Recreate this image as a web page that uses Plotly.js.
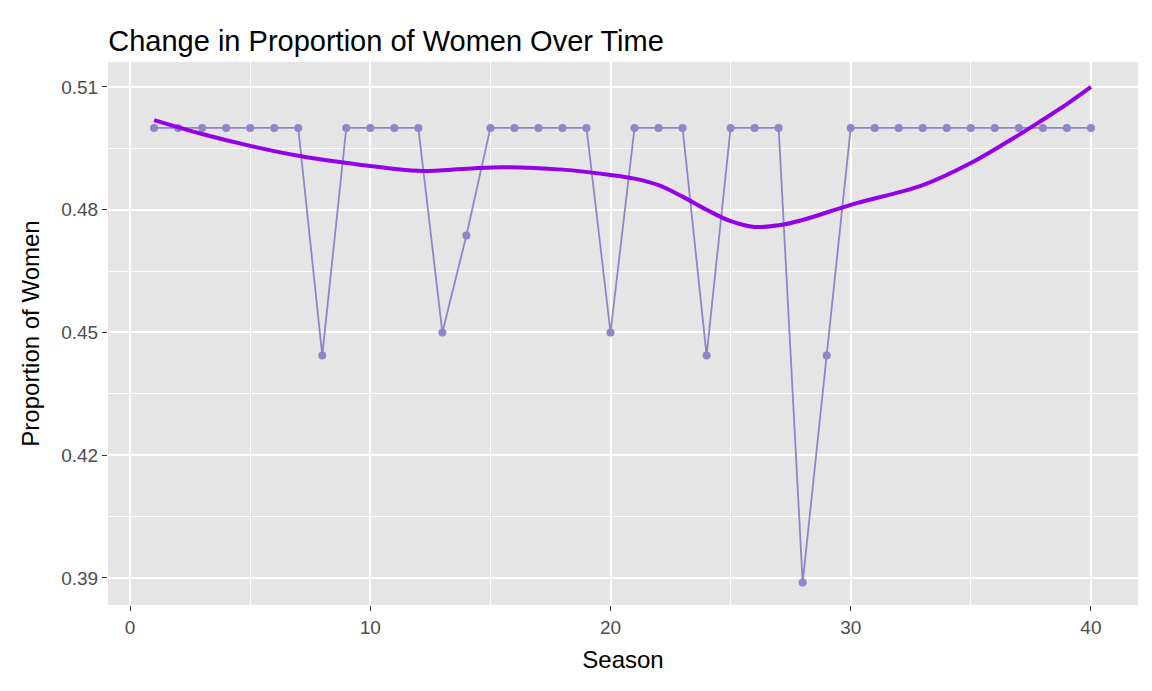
<!DOCTYPE html>
<html><head><script src="https://cdn.plot.ly/plotly-3.0.1.min.js"></script></head>
<body style="margin:0">
<div id="chart" style="width:1152px;height:691px"></div>
<script>
const seasons = Array.from({length:40},(_,i)=>i+1);
const proportion = [0.5,0.5,0.5,0.5,0.5,0.5,0.5,0.4444,0.5,0.5,0.5,0.5,0.45,0.4737,0.5,0.5,0.5,0.5,0.5,0.45,
  0.5,0.5,0.5,0.4444,0.5,0.5,0.5,0.3889,0.4444,0.5,0.5,0.5,0.5,0.5,0.5,0.5,0.5,0.5,0.5,0.5];
const smoothX = [1,3,5,7,10,12,14,15.5,18,20,21,22,23,24,25,26,27,28,30,33,35,37,38,39,40];
const smoothY = [0.5019,0.4985,0.4956,0.4932,0.4907,0.4895,0.4900,0.4904,0.4898,0.4885,0.4876,0.4860,0.4832,0.4800,0.4772,0.4758,0.4762,0.4775,0.4812,0.4860,0.4914,0.4983,0.5020,0.5058,0.51];
const data = [
 {x:seasons,y:proportion,type:'scatter',mode:'lines+markers',line:{color:'#8f85c8',width:1.8},marker:{color:'#8f85c8',size:8},hoverinfo:'x+y'},
 {x:smoothX,y:smoothY,type:'scatter',mode:'lines',line:{color:'#9400e8',width:4,shape:'spline'}}
];
const font='Liberation Sans, Arial, sans-serif';
const layout = {
 width:1152,height:691,showlegend:false,
 paper_bgcolor:'#fff',plot_bgcolor:'#e5e5e5',
 margin:{l:108,r:14,t:62,b:86},
 title:{text:'Change in Proportion of Women Over Time',x:0.094,xanchor:'left',y:0.955,font:{family:font,size:29,color:'#000'}},
 xaxis:{range:[-0.92,41.96],tickvals:[0,10,20,30,40],gridcolor:'#fff',gridwidth:2.2,zeroline:false,
   minor:{tickvals:[5,15,25,35],gridcolor:'#fff',gridwidth:1,showgrid:true},
   ticks:'outside',ticklen:5,tickcolor:'#333',tickfont:{family:font,size:19,color:'#4d4d4d'},
   title:{text:'Season',font:{family:font,size:24,color:'#000'},standoff:14}},
 yaxis:{range:[0.3834,0.5161],tickvals:[0.39,0.42,0.45,0.48,0.51],ticktext:['0.39','0.42','0.45','0.48','0.51'],
   gridcolor:'#fff',gridwidth:2.2,zeroline:false,
   minor:{tickvals:[0.405,0.435,0.465,0.495],gridcolor:'#fff',gridwidth:1,showgrid:true},
   ticks:'outside',ticklen:5,tickcolor:'#333',tickfont:{family:font,size:19,color:'#4d4d4d'},
   title:{text:'Proportion of Women',font:{family:font,size:24,color:'#000'},standoff:14}}
};
Plotly.newPlot('chart',data,layout,{displayModeBar:false});
</script></body></html>
